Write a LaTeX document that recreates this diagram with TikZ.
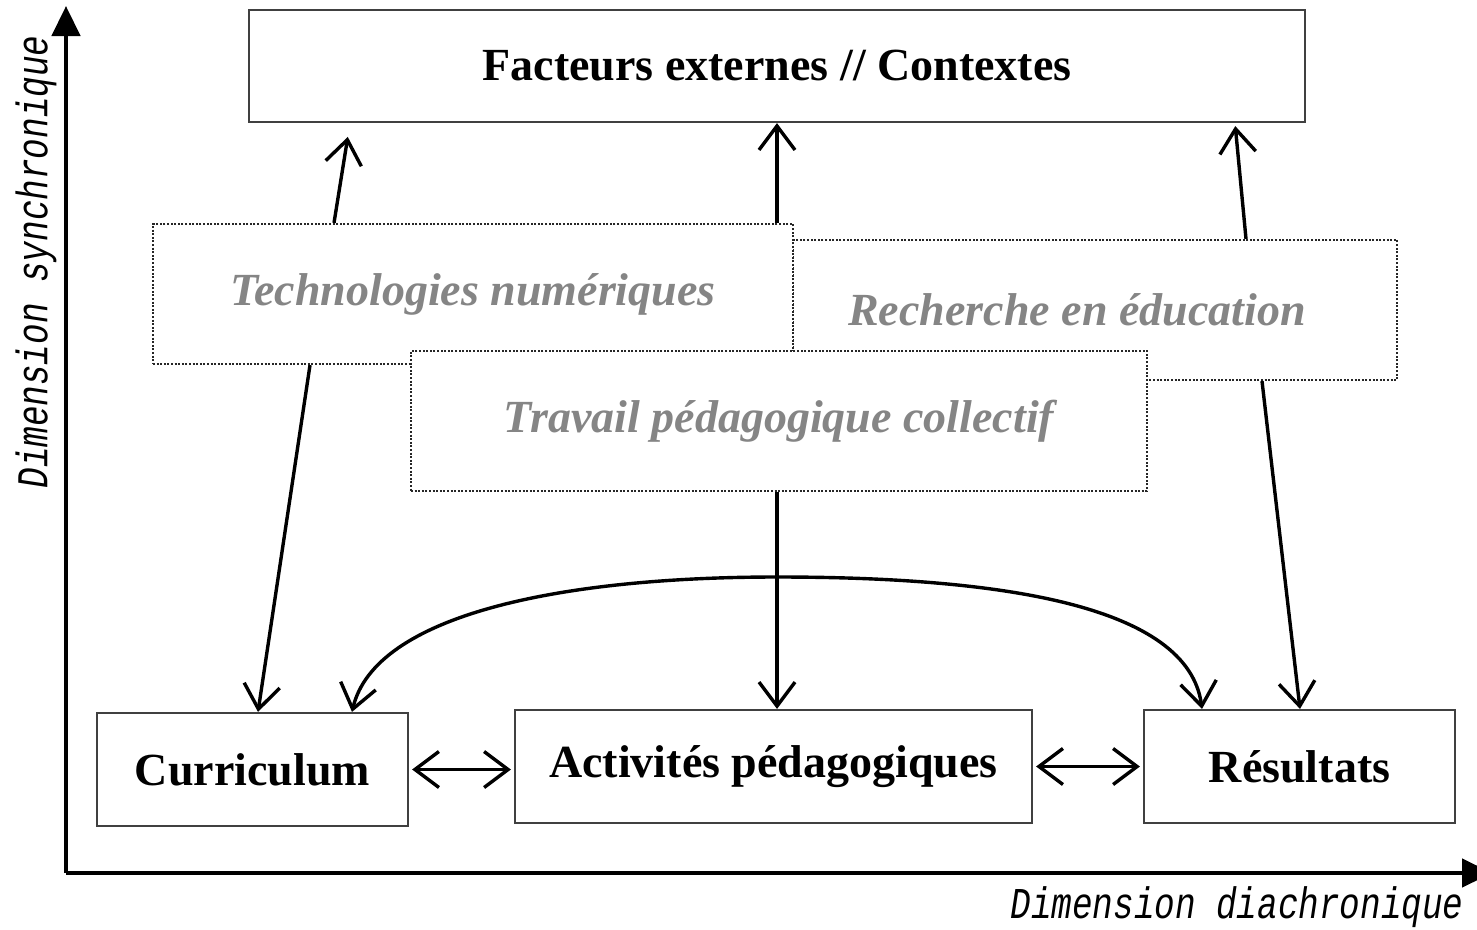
\documentclass[tikz,border=0pt]{standalone}
\usepackage{fontspec}
\usepackage{graphicx}
\setmainfont{Liberation Serif}
\newfontfamily\axfont{Liberation Mono}
\usetikzlibrary{arrows.meta}
\begin{document}
\begin{tikzpicture}[x=1pt,y=-1pt,
  box/.style={draw=black!75, line width=2.2pt, fill=white, inner sep=0pt,
    font=\fontsize{46}{50}\selectfont\bfseries},
  dbox/.style={draw=black!85, line width=2.2pt, dash pattern=on 2pt off 1.6pt,
    fill=white, inner sep=0pt, text=black!48,
    font=\fontsize{46}{50}\selectfont\bfseries\itshape},
  conn/.style={line width=3.4pt, -{Straight Barb[length=24pt,width=36pt]}},
  dconn/.style={line width=3.4pt, {Straight Barb[length=24pt,width=36pt]}-{Straight Barb[length=24pt,width=36pt]}},
  axis/.style={line width=4.5pt, -{Triangle[length=30pt,width=28pt]}},
  axlabel/.style={font=\axfont\itshape\fontsize{44}{48}\selectfont, inner sep=0pt}
]
\useasboundingbox (0,0) rectangle (1477,929);

% axes
\coordinate (o) at (66,873);
\coordinate (ytop) at (66,6);
\coordinate (xend) at (1492,873);
\draw[axis] (o) -- (ytop);
\draw[axis] (o) -- (xend);
\node[axlabel, rotate=90] (ylab) at (36,262) {\scalebox{0.78}[1]{Dimension synchronique}};
\node[axlabel] (xlab) at (1237,907) {\scalebox{0.78}[1]{Dimension diachronique}};

% boxes
\node[box, minimum width=1056pt, minimum height=112pt] (fact) at (777,66) {Facteurs externes // Contextes};
\node[dbox, minimum width=604pt, minimum height=140pt] (rech) at (1095,310) {Recherche en éducation\hspace*{36pt}};
\node[dbox, minimum width=640pt, minimum height=140pt] (tech) at (473,294) {Technologies numériques};
\node[dbox, minimum width=736pt, minimum height=140pt] (trav) at (779,421) {Travail pédagogique collectif};
\node[box, minimum width=311pt, minimum height=113pt] (curr) at (252.5,769.5) {Curriculum};
\node[box, minimum width=517pt, minimum height=113pt] (act) at (773.5,766.5) {Activités pédagogiques};
\node[box, minimum width=311pt, minimum height=113pt] (res) at (1299.5,766.5) {Résultats};

% connectors
\draw[conn, shorten >=14pt] ([xshift=-139pt]tech.north) -- ([xshift=-427pt]fact.south);
\draw[conn] ([xshift=304pt]tech.north) -- (fact.south);
\draw[conn, shorten >=3pt] ([xshift=151pt]rech.north) -- ([xshift=458pt]fact.south);
\draw[conn] ([xshift=-163pt]tech.south) -- ([xshift=5.5pt]curr.north);
\draw[conn] ([xshift=-2pt]trav.south) -- ([xshift=3.5pt]act.north);
\draw[conn] ([xshift=167pt]rech.south) -- ([xshift=0.5pt]res.north);
\draw[dconn] ([xshift=99.5pt]curr.north) .. controls (375,615) and (560,577) .. (777,577)
  .. controls (1000,577) and (1188,605) .. ([xshift=-97.5pt]res.north);
\draw[dconn, shorten <=3pt, shorten >=3pt] (curr.east) -- (curr.east -| act.west);
\draw[dconn, shorten <=3pt, shorten >=3pt] (act.east) -- (act.east -| res.west);
\end{tikzpicture}
\end{document}
